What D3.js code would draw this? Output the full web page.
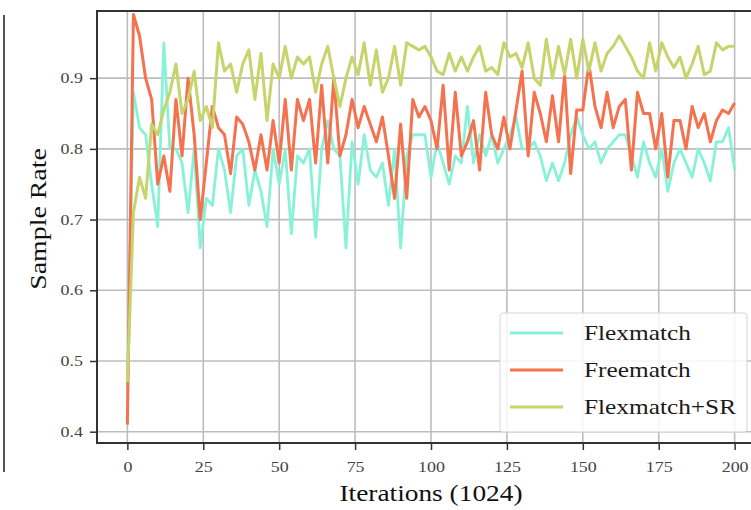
<!DOCTYPE html>
<html>
<head>
<meta charset="utf-8">
<script src="https://cdn.jsdelivr.net/npm/d3@7"></script>
<style>
body{margin:0;background:#fff;}
svg text{font-family:"Times New Roman","Liberation Serif",Tinos,Times,serif;}
</style>
</head>
<body>
<div class="chart"></div>
<script>
//iterations (x1024), one sample every 2
var iterations = d3.range(0, 201, 2);

var flexmatch = [0.46,0.88,0.83,0.82,0.75,0.69,0.95,0.80,0.80,0.78,
  0.71,0.80,0.66,0.73,0.72,0.80,0.77,0.71,0.79,0.80,
  0.72,0.77,0.74,0.69,0.80,0.75,0.80,0.68,0.79,0.78,
  0.80,0.675,0.80,0.84,0.80,0.79,0.66,0.81,0.75,0.82,
  0.77,0.76,0.78,0.72,0.80,0.66,0.79,0.82,0.82,0.82,
  0.76,0.81,0.78,0.75,0.79,0.78,0.86,0.78,0.82,0.79,
  0.82,0.78,0.80,0.82,0.845,0.80,0.80,0.81,0.79,0.755,
  0.78,0.755,0.78,0.82,0.845,0.82,0.80,0.81,0.78,0.80,
  0.81,0.82,0.82,0.79,0.76,0.81,0.78,0.76,0.80,0.74,
  0.78,0.80,0.78,0.76,0.80,0.78,0.755,0.81,0.81,0.83,
  0.77];

var freematch = [0.41,0.99,0.96,0.90,0.87,0.75,0.79,0.74,0.87,0.79,
  0.90,0.82,0.70,0.78,0.86,0.83,0.82,0.765,0.845,0.835,
  0.81,0.77,0.82,0.77,0.84,0.78,0.87,0.77,0.87,0.84,
  0.87,0.78,0.89,0.78,0.90,0.79,0.82,0.87,0.83,0.86,
  0.835,0.81,0.845,0.79,0.73,0.835,0.73,0.87,0.845,0.86,
  0.84,0.80,0.89,0.77,0.88,0.79,0.81,0.84,0.77,0.88,
  0.82,0.80,0.845,0.80,0.855,0.91,0.79,0.88,0.85,0.81,
  0.875,0.81,0.905,0.765,0.855,0.855,0.92,0.86,0.83,0.88,
  0.83,0.86,0.87,0.77,0.88,0.85,0.85,0.80,0.85,0.76,
  0.84,0.84,0.80,0.86,0.83,0.85,0.81,0.84,0.855,0.85,
  0.865];

var flexmatchSR = [0.47,0.71,0.76,0.73,0.835,0.82,0.855,0.88,0.92,0.85,
  0.87,0.91,0.84,0.86,0.83,0.95,0.91,0.92,0.88,0.92,
  0.94,0.87,0.935,0.84,0.92,0.90,0.945,0.90,0.93,0.92,
  0.93,0.88,0.92,0.945,0.90,0.86,0.90,0.93,0.905,0.95,
  0.89,0.94,0.88,0.90,0.945,0.89,0.95,0.945,0.94,0.945,
  0.93,0.91,0.905,0.935,0.91,0.93,0.91,0.93,0.945,0.91,
  0.915,0.905,0.95,0.93,0.935,0.915,0.95,0.90,0.89,0.955,
  0.90,0.945,0.905,0.955,0.90,0.955,0.91,0.95,0.91,0.935,
  0.945,0.96,0.945,0.93,0.91,0.90,0.95,0.91,0.95,0.93,
  0.915,0.93,0.90,0.92,0.945,0.905,0.91,0.95,0.94,0.945,
  0.945];

var seriesNames = ["Flexmatch", "Freematch", "Flexmatch+SR"];
var seriesColors = ["#88f2d8", "#f4724e", "#c6d46c"];
var xTicks = [0, 25, 50, 75, 100, 125, 150, 175, 200];
var yTicks = [0.4, 0.5, 0.6, 0.7, 0.8, 0.9];

function wrapper(){

var W = 751, H = 510;
var svg = d3.select("div.chart")
            .append("svg")
            .attr("width", W)
            .attr("height", H);

svg.append("rect").attr("width", W).attr("height", H).attr("fill", "#fff");

//plot box (right edge falls off the picture)
var left = 97, top = 11, right = 765, bottom = 443;

var x = d3.scaleLinear().domain([-10, 210]).range([left, right]);
var y = d3.scaleLinear().domain([0.384, 0.995]).range([bottom, top]);

//stretch text a bit wider, the source image is squashed
function widen(sel, k){
  sel.each(function(){
    var len = this.getComputedTextLength();
    d3.select(this).attr("textLength", len * k).attr("lengthAdjust", "spacingAndGlyphs");
  });
}

//stray frame line at far left
svg.append("line")
   .attr("x1", 4).attr("x2", 4)
   .attr("y1", 15).attr("y2", 472)
   .attr("stroke", "#555")
   .attr("stroke-width", 2);

//grid
svg.append("g")
   .selectAll("line")
   .data(xTicks)
   .enter()
   .append("line")
     .attr("x1", function(d){ return x(d); })
     .attr("x2", function(d){ return x(d); })
     .attr("y1", top).attr("y2", bottom)
     .attr("stroke", "#bdbdbd")
     .attr("stroke-width", 1.6);

svg.append("g")
   .selectAll("line")
   .data(yTicks)
   .enter()
   .append("line")
     .attr("x1", left).attr("x2", right)
     .attr("y1", function(d){ return y(d); })
     .attr("y2", function(d){ return y(d); })
     .attr("stroke", "#bdbdbd")
     .attr("stroke-width", 1.6);

//lines
svg.append("clipPath").attr("id", "clip")
   .append("rect")
   .attr("x", left).attr("y", top)
   .attr("width", right - left).attr("height", bottom - top);

var line = d3.line()
             .x(function(d, i){ return x(iterations[i]); })
             .y(function(d){ return y(d); });

var series = [flexmatch, freematch, flexmatchSR];
var widths = [2.8, 3, 3];

svg.append("g")
   .attr("clip-path", "url(#clip)")
   .selectAll("path")
   .data(series)
   .enter()
   .append("path")
     .attr("d", line)
     .attr("fill", "none")
     .attr("stroke", function(d, i){ return seriesColors[i]; })
     .attr("stroke-width", function(d, i){ return widths[i]; })
     .attr("stroke-linejoin", "round");

//axes
var xAxis = svg.append("g")
   .attr("transform", "translate(0," + bottom + ")")
   .call(d3.axisBottom(x).tickValues(xTicks).tickSize(7).tickPadding(9).tickFormat(d3.format("d")));

var yAxis = svg.append("g")
   .attr("transform", "translate(" + left + ",0)")
   .call(d3.axisLeft(y).tickValues(yTicks).tickSize(7).tickPadding(7).tickFormat(d3.format(".1f")));

[xAxis, yAxis].forEach(function(ax){
  ax.attr("font-family", null);
  ax.select(".domain").remove();
  ax.selectAll(".tick line").attr("stroke", "#333").attr("stroke-width", 1.5);
  ax.selectAll(".tick text")
    .attr("fill", "#444")
    .style("font-size", "14px")
    .call(widen, 1.28);
});
xAxis.selectAll(".tick text").attr("dy", "0.9em");

//spines
svg.append("path")
   .attr("d", "M" + right + "," + top + "H" + left + "V" + bottom + "H" + right)
   .attr("fill", "none")
   .attr("stroke", "#333")
   .attr("stroke-width", 2);

//axis titles
svg.append("text")
   .attr("x", x(100))
   .attr("y", 501)
   .attr("text-anchor", "middle")
   .attr("fill", "#111")
   .style("font-size", "24px")
   .text("Iterations (1024)")
   .call(widen, 1.14);

svg.append("text")
   .attr("transform", "translate(46,219) rotate(-90)")
   .attr("text-anchor", "middle")
   .attr("fill", "#111")
   .style("font-size", "24px")
   .text("Sample Rate")
   .call(widen, 1.16);

//legend
var legend = svg.append("g");
legend.append("rect")
      .attr("x", 500).attr("y", 313)
      .attr("width", 247).attr("height", 119)
      .attr("rx", 3)
      .attr("fill", "#fff")
      .attr("fill-opacity", 0.85)
      .attr("stroke", "#d6d6d6");

var rows = legend.selectAll(".row")
      .data(seriesNames)
      .enter()
      .append("g")
      .attr("transform", function(d, i){ return "translate(0," + (333 + i * 37) + ")"; });

rows.append("line")
    .attr("x1", 510).attr("x2", 563)
    .attr("stroke", function(d, i){ return seriesColors[i]; })
    .attr("stroke-width", 3);

rows.append("text")
    .attr("x", 584)
    .attr("y", 7)
    .attr("fill", "#1a1a1a")
    .style("font-size", "22px")
    .text(function(d){ return d; })
    .call(widen, 1.15);

}
window.onload = wrapper();
</script>
</body>
</html>
